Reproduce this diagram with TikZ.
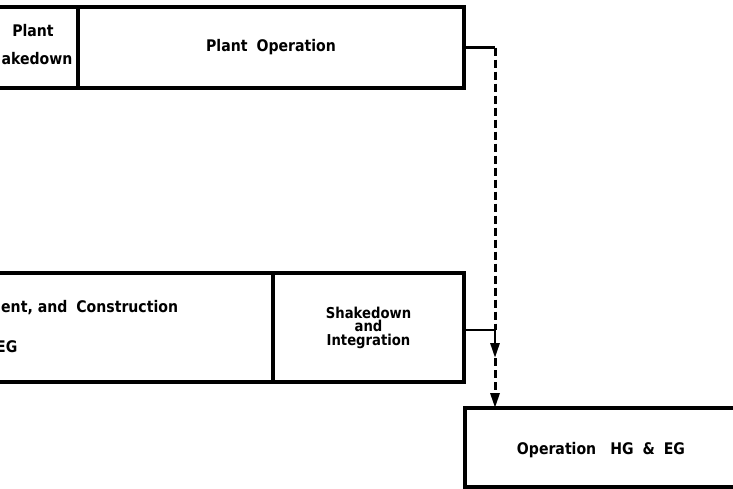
\documentclass[tikz,border=0pt]{standalone}
\usepackage{fontspec}
\setmainfont{DejaVu Sans}
\newfontfamily\tallfont[FakeStretch=0.88]{DejaVu Sans}
\usetikzlibrary{arrows.meta}
\begin{document}
\begin{tikzpicture}[x=1pt,y=-1pt,
  box/.style={draw, line width=3.4pt, rectangle, inner sep=0pt, outer sep=0pt, font=\tallfont\bfseries\fontsize{16}{18}\selectfont},
  lbl/.style={inner sep=0pt, font=\tallfont\bfseries\fontsize{16}{18}\selectfont},
  conn/.style={line width=2.8pt},
  dashconn/.style={line width=3pt, dash pattern=on 8pt off 4pt},
  tip/.style={-{Triangle[length=15pt,width=9pt]}}
]
\useasboundingbox (0,0) rectangle (733,488);
\clip (0,0) rectangle (733,488);
% top row
\node[box, minimum width=100pt, minimum height=81pt] (plantshk) at (28,47.5) {};
\node[box, minimum width=386pt, minimum height=81pt] (plantop) at (271,47.5) {Plant\hspace{9pt}Operation};
\node[lbl] (pl1) at (33,31) {Plant};
\node[lbl] (pl2) at (37,58.5) {akedown};
% middle row
\node[box, minimum width=295pt, minimum height=109pt] (design) at (125.5,327.5) {};
\node[box, minimum width=191pt, minimum height=109pt, align=center,
      font=\tallfont\bfseries\fontsize{15}{13.5}\selectfont] (shk) at (368.5,327.5) {Shakedown\\and\\Integration};
\node[lbl, anchor=west] (d1) at (1,308) {ent, and\hspace{9pt}Construction};
\node[lbl, anchor=west] (d2) at (-4,347) {EG};
% bottom
\node[box, minimum width=295pt, minimum height=79pt] (opbox) at (612.5,447.5) {};
\node[lbl] (optext) at (601,450) {Operation\hspace{14pt}HG\hspace{9pt}\&\hspace{9pt}EG};
% connectors
\coordinate (j1) at (495,47.5);
\coordinate (j2) at (495,330);
\coordinate (a1) at (495,358);
\draw[conn] (plantop.east) -- (j1);
\draw[dashconn] (j1) -- (j2);
\draw[conn] (shk.east |- j2) -- (j2);
\draw[conn, tip] (j2) -- (a1);
\draw[dashconn, tip] (a1) -- (opbox.north -| j1);
\end{tikzpicture}
\end{document}
